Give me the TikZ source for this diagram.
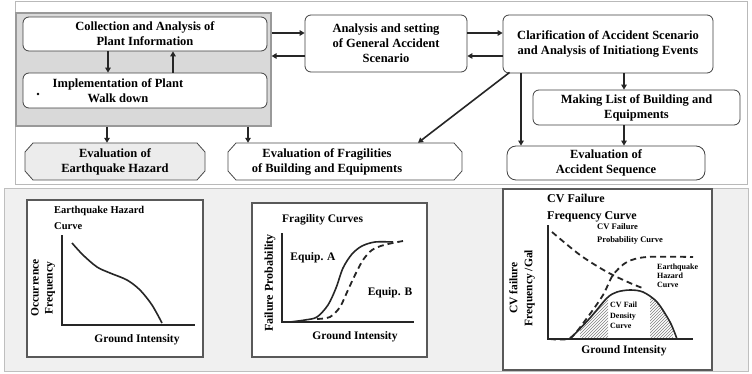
\documentclass[tikz,border=0pt]{standalone}
\usepackage{fontspec}
\setmainfont{Liberation Serif}
\usetikzlibrary{arrows.meta,patterns}
\newcommand\chamferbox[5]{% x1 y1 x2 y2 fill
  \draw[draw=black!70, line width=0.8pt, fill=#5]
    ({#1+8},#2) -- ({#3-8},#2) -- (#3,{#2+9}) -- (#3,{#4-9}) -- ({#3-8},#4)
    -- ({#1+8},#4) -- (#1,{#4-9}) -- (#1,{#2+9}) -- cycle;}
\begin{document}
\begin{tikzpicture}[x=1pt,y=-1pt,
  txt/.style={font=\bfseries\fontsize{12.5}{15}\selectfont, align=center, inner sep=0pt},
  box/.style={txt, draw=black!75, line width=0.8pt, fill=white, rounded corners=6pt},
  plainbox/.style={txt, draw=none},
  grpbox/.style={draw=gray!80, line width=1.2pt, fill=gray!30, inner sep=0pt},
  arr/.style={-{Triangle[length=5pt,width=5.5pt]}, line width=1.6pt, black!85},
  panel/.style={draw=black!65, line width=1.2pt, fill=white},
  ptxt/.style={font=\bfseries\fontsize{11.5}{15}\selectfont, inner sep=0pt},
  stxt/.style={font=\bfseries\fontsize{8.5}{10}\selectfont, inner sep=0pt, align=left},
  axis/.style={line width=1.5pt, black!85},
  curve/.style={line width=1.6pt, black!85},
  dsh/.style={line width=1.8pt, black!85, dash pattern=on 6pt off 4pt}
]
\useasboundingbox (0,0) rectangle (752,374);
\fill[white] (0,0) rectangle (752,374);
% frames
\draw[gray!55, line width=1pt] (15,2) rectangle (747,185);
\draw[gray!50, fill=gray!12, line width=1pt] (4,189) rectangle (748,371);

% top flow chart
\node[grpbox, minimum width=255pt, minimum height=113pt] (grp) at (143.5,69.5) {};
\node[box, minimum width=244pt, minimum height=34pt] (col) at (145,34) {Collection and Analysis of\\Plant Information};
\node[box, minimum width=244pt, minimum height=35pt] (imp) at (145,90.5) {};
\node[txt] (impt) at (118,90.5) {Implementation of Plant\\Walk down};
\fill (38,94) circle (1.3pt);

\node[box, minimum width=162pt, minimum height=57pt] (ana) at (386,43.5) {Analysis and setting\\of General Accident\\Scenario};
\node[box, minimum width=210pt, minimum height=58pt] (cla) at (608,44) {Clarification of Accident Scenario\\and Analysis of Initiationg Events};
\node[box, minimum width=207pt, minimum height=35pt] (mak) at (636.5,107.5) {Making List of Building and\\Equipments};
\chamferbox{25}{143}{205}{180}{gray!15}
\node[plainbox, minimum width=180pt, minimum height=37pt] (eeh) at (115,161.5) {Evaluation of\\Earthquake Hazard};
\chamferbox{228}{143}{462}{180}{white}
\node[plainbox, minimum width=234pt, minimum height=37pt] (efr) at (345,161.5) {};
\node[txt] (efrt) at (327,161.5) {Evaluation of Fragilities\\of Building and Equipments};
\node[box, rounded corners=9pt, minimum width=198pt, minimum height=34pt] (eas) at (606,163) {Evaluation of\\Accident Sequence};

\draw[arr] (108,0 |- col.south) -- (108,0 |- imp.north);
\draw[arr] (173,0 |- imp.north) -- (173,0 |- col.south);
\draw[arr] (grp.east |- 0,33) -- (ana.west |- 0,33);
\draw[arr] (ana.west |- 0,56) -- (grp.east |- 0,56);
\draw[arr] (ana.east |- 0,33) -- (cla.west |- 0,33);
\draw[arr] (cla.west |- 0,56) -- (ana.east |- 0,56);
\draw[arr] (107,0 |- grp.south) -- (107,0 |- eeh.north);
\draw[arr] (248,0 |- grp.south) -- (248,0 |- efr.north);
\draw[arr] ([xshift=7pt,yshift=1pt]cla.south west) -- (418,0 |- efr.north);
\draw[arr] (521,0 |- cla.south) -- (521,0 |- eas.north);
\draw[arr] (624,0 |- cla.south) -- (624,0 |- mak.north);
\draw[arr] (624,0 |- mak.south) -- (624,0 |- eas.north);

% panel 1
\draw[panel] (27,200) rectangle (203,357);
\node[ptxt, anchor=north west, align=left, font=\bfseries\fontsize{10.5}{16}\selectfont] (t1) at (54,206) {Earthquake Hazard\\Curve};
\draw[axis] (62,235) -- (62,325) -- (195,325);
\draw[curve] plot[smooth] coordinates {(72,243) (83,255) (97,267) (110,273) (127,280) (140,290) (152,305) (162,323)};
\node[ptxt] (x1) at (137,340) {Ground Intensity};
\node[ptxt, rotate=90, align=center, font=\bfseries\fontsize{11.5}{14}\selectfont] (y1) at (43,288) {Occurrence\\Frequency};

% panel 2
\draw[panel] (252,203) rectangle (427,357);
\node[ptxt, anchor=west] (t2) at (282,220) {Fragility Curves};
\draw[axis] (282,233) -- (282,322) -- (414,322);
\draw[curve] plot[smooth] coordinates {(290,322) (305,320) (317,317) (328,305) (336,288) (343,268) (352,254) (362,246) (375,242) (393,242)};
\draw[dsh] plot[smooth] coordinates {(317,319) (330,317) (340,307) (348,290) (355,275) (363,260) (372,250) (384,245) (403,241)};
\node[ptxt] (ea) at (313,258) {Equip. A};
\node[ptxt] (eb) at (390,293) {Equip. B};
\node[ptxt] (x2) at (355,337) {Ground Intensity};
\node[ptxt, rotate=90, font=\bfseries\fontsize{12}{14}\selectfont] (y2) at (270,283) {Failure Probability};

% panel 3
\draw[panel] (503,189) rectangle (712,370);
\node[ptxt, anchor=north west, align=left, font=\bfseries\fontsize{12}{17}\selectfont] (t3) at (547,194) {CV Failure\\Frequency Curve};
\begin{scope}
  \clip (580,280) rectangle (608,339);
  \fill[pattern=north east lines, pattern color=gray] plot[smooth] coordinates {(570,339) (590,318) (607,298) (617,292) (630,290) (643,292) (657,302) (670,322) (677,339)} -- cycle;
\end{scope}
\begin{scope}
  \clip (650,280) rectangle (673,339);
  \fill[pattern=north east lines, pattern color=gray] plot[smooth] coordinates {(570,339) (590,318) (607,298) (617,292) (630,290) (643,292) (657,302) (670,322) (677,339)} -- cycle;
\end{scope}
\draw[axis] (548,225) -- (548,339) -- (693,339);
\draw[dsh] plot[smooth] coordinates {(552,232) (580,255) (607,272) (630,283) (645,289)};
\draw[dsh] plot[smooth] coordinates {(550,339) (570,338) (587,318) (603,295) (613,275) (627,262) (647,257) (693,257)};
\draw[curve] plot[smooth] coordinates {(570,339) (590,318) (607,298) (617,292) (630,290) (643,292) (657,302) (670,322) (677,339)};
\node[stxt, anchor=north west, font=\bfseries\fontsize{8.5}{13}\selectfont] (l1) at (597,223) {CV Failure\\Probability Curve};
\node[stxt, anchor=north west, font=\bfseries\fontsize{8}{9}\selectfont] (l2) at (657,264) {Earthquake\\Hazard\\Curve};
\node[stxt, anchor=north west, font=\bfseries\fontsize{8}{10.5}\selectfont] (l3) at (610,302) {CV Fail\\Density\\Curve};
\node[ptxt] (x3) at (624,351) {Ground Intensity};
\node[ptxt, rotate=90, align=center, font=\bfseries\fontsize{11.5}{15}\selectfont] (y3) at (522,288) {CV failure\\Frequency /Gal};
\end{tikzpicture}
\end{document}
